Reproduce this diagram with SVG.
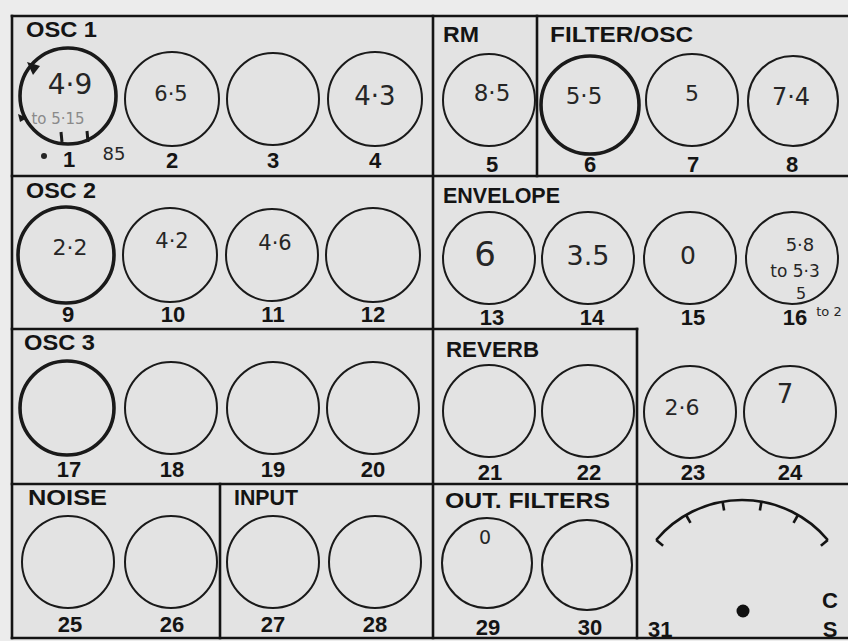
<svg xmlns="http://www.w3.org/2000/svg" width="848" height="641" viewBox="0 0 848 641">
<style>
.ln{stroke:#141414;stroke-width:2.6;fill:none;stroke-linecap:square}
.ring{fill:none;stroke:#1a1a1a;stroke-width:2}
.thick{stroke-width:3.6}
.title{font-family:"Liberation Sans",Arial,sans-serif;font-weight:bold;font-size:22px;fill:#141414}
.num{font-family:"Liberation Sans",Arial,sans-serif;font-weight:bold;font-size:22px;fill:#141414;text-anchor:middle}
.hand{font-family:"DejaVu Sans","Liberation Sans",sans-serif;fill:#262626;text-anchor:middle}
.faint{fill:#8a8a8a}
</style>
<rect x="0" y="0" width="848" height="641" fill="#ececec"/>
<rect x="12" y="16" width="836" height="622" fill="#e3e3e3"/>
<g id="frame">
<line class="ln" x1="12" y1="16" x2="848" y2="16"/>
<line class="ln" x1="12" y1="16" x2="12" y2="638"/>
<line class="ln" x1="12" y1="638" x2="848" y2="638"/>
<line class="ln" x1="12" y1="176" x2="848" y2="176"/>
<line class="ln" x1="12" y1="329" x2="637" y2="329"/>
<line class="ln" x1="12" y1="484" x2="848" y2="484"/>
<line class="ln" x1="433" y1="16" x2="433" y2="638"/>
<line class="ln" x1="537" y1="16" x2="537" y2="176"/>
<line class="ln" x1="637" y1="329" x2="637" y2="638"/>
<line class="ln" x1="220" y1="484" x2="220" y2="638"/>
</g>
<g id="connectors"/>
<g id="osc1">
<text class="title" x="26" y="37" textLength="71" lengthAdjust="spacingAndGlyphs">OSC 1</text>
<g id="k1"><circle class="ring thick" cx="68" cy="96" r="48"/><text class="num" x="69" y="167">1</text>
<text class="hand" x="70" y="94" style="font-size:28px">4·9</text>
<text class="hand faint" x="58" y="124" style="font-size:15px">to 5·15</text>
<text class="hand" x="114" y="160" style="font-size:18px">85</text>
<circle cx="44" cy="156" r="3" fill="#262626"/>
<path d="M27,62 L40,66 L33,75 Z" fill="#1a1a1a"/>
<path d="M18,114 L27,118 L20,122 Z" fill="#1a1a1a"/>
<line x1="61" y1="132" x2="62" y2="142" stroke="#1a1a1a" stroke-width="3"/>
<line x1="87" y1="131" x2="88" y2="142" stroke="#1a1a1a" stroke-width="3"/>
</g>
<g id="k2"><circle class="ring" cx="172" cy="99" r="47"/><text class="num" x="172" y="168">2</text><text class="hand" x="171" y="101" style="font-size:21px">6·5</text></g>
<g id="k3"><circle class="ring" cx="273" cy="99" r="46"/><text class="num" x="273" y="168">3</text></g>
<g id="k4"><circle class="ring" cx="375" cy="99" r="47"/><text class="num" x="375" y="168">4</text><text class="hand" x="375" y="105" style="font-size:26px">4·3</text></g>
</g>
<g id="rm">
<text class="title" x="443" y="42" textLength="36" lengthAdjust="spacingAndGlyphs">RM</text>
<g id="k5"><circle class="ring" cx="489" cy="100" r="46"/><text class="num" x="492" y="172">5</text><text class="hand" x="492" y="101" style="font-size:23px">8·5</text></g>
</g>
<g id="filterosc">
<text class="title" x="550" y="42" textLength="143" lengthAdjust="spacingAndGlyphs">FILTER/OSC</text>
<g id="k6"><circle class="ring thick" cx="590" cy="105" r="49"/><text class="num" x="590" y="172">6</text><text class="hand" x="584" y="104" style="font-size:23px">5·5</text></g>
<g id="k7"><circle class="ring" cx="692" cy="100" r="46"/><text class="num" x="693" y="172">7</text><text class="hand" x="692" y="101" style="font-size:22px">5</text></g>
<g id="k8"><circle class="ring" cx="793" cy="101" r="45"/><text class="num" x="792" y="172">8</text><text class="hand" x="791" y="105" style="font-size:24px">7·4</text></g>
</g>
<g id="osc2">
<text class="title" x="26" y="198" textLength="70" lengthAdjust="spacingAndGlyphs">OSC 2</text>
<g id="k9"><circle class="ring thick" cx="66" cy="255" r="48"/><text class="num" x="68" y="322">9</text><text class="hand" x="70" y="255" style="font-size:22px">2·2</text></g>
<g id="k10"><circle class="ring" cx="170" cy="255" r="47"/><text class="num" x="173" y="322">10</text><text class="hand" x="172" y="248" style="font-size:21px">4·2</text></g>
<g id="k11"><circle class="ring" cx="272" cy="255" r="46"/><text class="num" x="273" y="322">11</text><text class="hand" x="275" y="250" style="font-size:21px">4·6</text></g>
<g id="k12"><circle class="ring" cx="373" cy="255" r="47"/><text class="num" x="373" y="322">12</text></g>
</g>
<g id="envelope">
<text class="title" x="443" y="203" textLength="117" lengthAdjust="spacingAndGlyphs">ENVELOPE</text>
<g id="k13"><circle class="ring" cx="489" cy="258" r="46"/><text class="num" x="492" y="325">13</text><text class="hand" x="485" y="266" style="font-size:34px">6</text></g>
<g id="k14"><circle class="ring" cx="588" cy="258" r="46"/><text class="num" x="592" y="325">14</text><text class="hand" x="588" y="265" style="font-size:27px">3.5</text></g>
<g id="k15"><circle class="ring" cx="690" cy="258" r="46"/><text class="num" x="693" y="325">15</text><text class="hand" x="688" y="264" style="font-size:25px">0</text></g>
<g id="k16"><circle class="ring" cx="792" cy="258" r="46"/><text class="num" x="795" y="325">16</text>
<text class="hand" x="800" y="251" style="font-size:18px">5·8</text>
<text class="hand" x="795" y="277" style="font-size:17px">to 5·3</text>
<text class="hand" x="801" y="299" style="font-size:16px">5</text>
<text class="hand" x="829" y="316" style="font-size:13px">to 2</text></g>
</g>
<g id="osc3">
<text class="title" x="24" y="350" textLength="71" lengthAdjust="spacingAndGlyphs">OSC 3</text>
<g id="k17"><circle class="ring thick" cx="67" cy="408" r="47"/><text class="num" x="69" y="477">17</text></g>
<g id="k18"><circle class="ring" cx="171" cy="408" r="46"/><text class="num" x="172" y="477">18</text></g>
<g id="k19"><circle class="ring" cx="273" cy="408" r="46"/><text class="num" x="273" y="477">19</text></g>
<g id="k20"><circle class="ring" cx="373" cy="408" r="46"/><text class="num" x="373" y="477">20</text></g>
</g>
<g id="reverb">
<text class="title" x="446" y="357" textLength="93" lengthAdjust="spacingAndGlyphs">REVERB</text>
<g id="k21"><circle class="ring" cx="489" cy="411" r="46"/><text class="num" x="490" y="480">21</text></g>
<g id="k22"><circle class="ring" cx="588" cy="411" r="46"/><text class="num" x="589" y="480">22</text></g>
</g>
<g id="extra">
<g id="k23"><circle class="ring" cx="690" cy="412" r="46"/><text class="num" x="693" y="480">23</text><text class="hand" x="682" y="415" style="font-size:22px">2·6</text></g>
<g id="k24"><circle class="ring" cx="790" cy="412" r="46"/><text class="num" x="790" y="480">24</text><text class="hand" x="785" y="403" style="font-size:26px">7</text></g>
</g>
<g id="noise">
<text class="title" x="28" y="505" textLength="79" lengthAdjust="spacingAndGlyphs">NOISE</text>
<g id="k25"><circle class="ring" cx="68" cy="562" r="46"/><text class="num" x="70" y="632">25</text></g>
<g id="k26"><circle class="ring" cx="171" cy="562" r="46"/><text class="num" x="172" y="632">26</text></g>
</g>
<g id="input">
<text class="title" x="234" y="505" textLength="64" lengthAdjust="spacingAndGlyphs">INPUT</text>
<g id="k27"><circle class="ring" cx="273" cy="562" r="46"/><text class="num" x="273" y="632">27</text></g>
<g id="k28"><circle class="ring" cx="375" cy="562" r="46"/><text class="num" x="375" y="632">28</text></g>
</g>
<g id="outfilters">
<text class="title" x="445" y="508" textLength="165" lengthAdjust="spacingAndGlyphs">OUT. FILTERS</text>
<g id="k29"><circle class="ring" cx="487" cy="563" r="45"/><text class="num" x="488" y="635">29</text><text class="hand" x="485" y="544" style="font-size:19px">0</text></g>
<g id="k30"><circle class="ring" cx="587" cy="565" r="45"/><text class="num" x="590" y="635">30</text></g>
</g>
<g id="meter">
<path d="M656.2,540 A112,112 0 0 1 827.8,540" fill="none" stroke="#141414" stroke-width="2.6"/>
<g stroke="#141414" stroke-width="2.6">
<line x1="656.2" y1="540" x2="663.1" y2="545.8"/>
<line x1="686" y1="515" x2="690.5" y2="522.8"/>
<line x1="722.6" y1="501.7" x2="724.1" y2="510.5"/>
<line x1="761.4" y1="501.7" x2="759.9" y2="510.5"/>
<line x1="798" y1="515" x2="793.5" y2="522.8"/>
<line x1="827.8" y1="540" x2="820.9" y2="545.8"/>
</g>
<circle cx="743" cy="611" r="6.5" fill="#111"/>
<text class="num" x="648" y="637" style="text-anchor:start">31</text>
<text class="num" x="830" y="608">C</text>
<text class="num" x="830" y="637">S</text>
</g>
</svg>
